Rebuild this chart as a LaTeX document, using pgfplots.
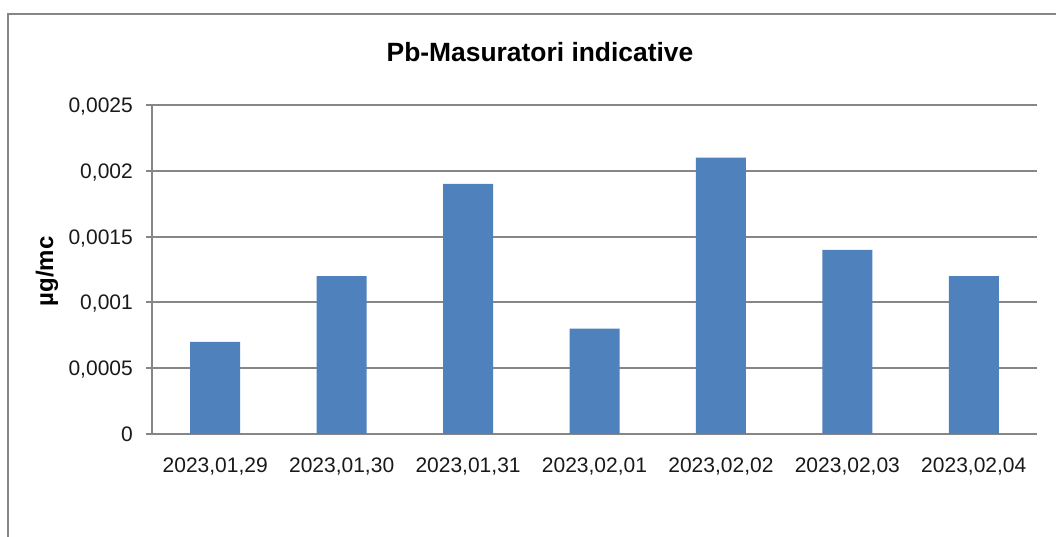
\documentclass[border=0pt]{standalone}
\usepackage{pgfplots}
\pgfplotsset{compat=1.18}
\usepackage{fontspec}
\setmainfont{Liberation Sans}
\definecolor{barblue}{HTML}{4F81BD}
\definecolor{gridgray}{HTML}{868686}
\begin{document}
\begin{tikzpicture}[x=1bp,y=1bp]
\useasboundingbox (0,0) rectangle (1056,537);
\fill[white] (0,0) rectangle (1056,537);
\draw[gridgray, line width=2.2bp] (8,-20) -- (8,523) -- (1080,523);
\begin{axis}[
  at={(152bp,103bp)}, anchor=south west,
  width=885bp, height=329bp, scale only axis,
  xmin=-0.5, xmax=6.5, ymin=0, ymax=0.0025,
  axis x line*=bottom, axis y line*=left,
  axis line style={gridgray, line width=2bp, -},
  ytick={0,0.0005,0.001,0.0015,0.002,0.0025},
  yticklabels={0,{0,0005},{0,001},{0,0015},{0,002},{0,0025}},
  scaled y ticks=false,
  xtick={0,1,2,3,4,5,6},
  xticklabels={{2023,01,29},{2023,01,30},{2023,01,31},{2023,02,01},{2023,02,02},{2023,02,03},{2023,02,04}},
  ymajorgrids,
  major grid style={gridgray, line width=2bp},
  y tick style={gridgray, line width=2bp},
  x tick style={draw=none},
  major tick length=6bp, tick align=outside,
  yticklabel style={anchor=base east, inner sep=0pt, xshift=-13bp, yshift=-7.5bp, font=\fontsize{21bp}{24bp}\selectfont, text=black!90},
  xticklabel style={anchor=north, inner sep=0pt, yshift=-18bp, font=\fontsize{21bp}{24bp}\selectfont, text=black!90},
  ybar, bar width=50bp,
]
\addplot[draw=none, fill=barblue] coordinates {
 (0,0.0007) (1,0.0012) (2,0.0019) (3,0.0008) (4,0.0021) (5,0.0014) (6,0.0012)
};
\end{axis}
\node[anchor=base, font=\bfseries\fontsize{26.4bp}{30bp}\selectfont] at (540,475) {Pb-Masuratori indicative};
\node[rotate=90, anchor=base, font=\bfseries\fontsize{24bp}{28bp}\selectfont] at (53,265.5) {µg/mc};
\end{tikzpicture}
\end{document}
